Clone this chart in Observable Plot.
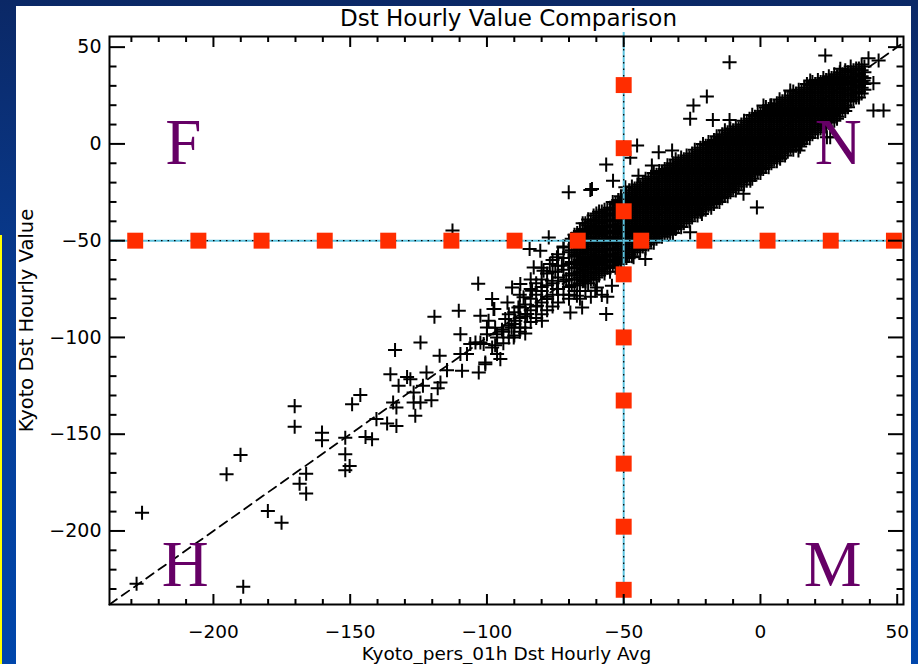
<!DOCTYPE html>
<html><head><meta charset="utf-8">
<script src="https://cdn.jsdelivr.net/npm/d3@7"></script>
<script src="https://cdn.jsdelivr.net/npm/@observablehq/plot@0.6"></script>
<style>
html,body{margin:0;padding:0;background:#0a3a8e;}
#wrap{position:relative;width:918px;height:664px;overflow:hidden;background:linear-gradient(180deg,#0b2866 0%,#083c92 45%,#0046ab 100%);}
#yellow{position:absolute;left:0;top:235px;width:2px;height:429px;background:#ffff00;}
#panel{position:absolute;left:16px;top:6px;width:895px;height:658px;background:#ffffff;}
#chart{position:absolute;left:0;top:0;}
</style></head><body>
<div id="wrap"><div id="yellow"></div><div id="panel"></div><div id="chart"></div></div>
<script>
// ---- text ----
const titleText = "Dst Hourly Value Comparison";
const xLabelText = "Kyoto_pers_01h Dst Hourly Avg";
const yLabelText = "Kyoto Dst Hourly Value";

// ---- scales / ticks ----
const xDomain = [-238, 52.3];
const yDomain = [-238, 55.5];
const xMajor = [-200, -150, -100, -50, 0, 50];
const yMajor = [-200, -150, -100, -50, 0, 50];
const xMinor = [-230,-220,-210,-190,-180,-170,-160,-140,-130,-120,-110,-90,-80,-70,-60,-40,-30,-20,-10,10,20,30,40];
const yMinor = [-230,-220,-210,-190,-180,-170,-160,-140,-130,-120,-110,-90,-80,-70,-60,-40,-30,-20,-10,10,20,30,40];

// ---- reference lines and markers ----
const refLevel = [-50];
const oneToOne = [-238, 52.3];
const hSquaresX = [-228.6,-205.5,-182.4,-159.3,-136.1,-113.0,-89.9,-66.8,-43.6,-20.5,2.6,25.7,48.8];
const vSquaresY = [30.4,-2.2,-34.8,-67.4,-100,-132.6,-165.2,-197.8,-230.4];

// ---- quadrant letters ----
const quadLabels = ["F", "N", "H", "M"];
const quadX = [-211, 28.4, -210.3, 26.4];
const quadY = [-10.5, -10.5, -228.5, -228.5];

// ---- scattered hourly values [persistence avg, Kyoto value] ----
const sparsePoints = [
[-226.1,-190.6],[-228.1,-227.3],[-189.1,-228.8],[-195.2,-170.7],[-190.1,-160.7],[-180.1,-189.7],[-175.1,-195.7],
[-170.3,-135.5],[-170.3,-146.2],[-168.5,-175.6],[-166.1,-170.4],[-166.1,-180.7],[-160.3,-149.2],[-160.3,-153.1],
[-151.8,-151.8],[-151.8,-160.4],[-151.8,-168.6],[-150.2,-166.4],[-149.3,-134.5],[-146.3,-129.7],[-144.4,-151.4],
[-142,-152.6],[-140.4,-142.2],[-136.5,-144.5],[-135.3,-119],[-134.3,-133.6],[-133.1,-136.2],[-133.1,-145.7],
[-133.6,-106.5],[-132.3,-125],[-129.2,-120.4],[-128,-121.6],[-126.8,-128.5],[-126.8,-133.6],[-126.2,-140.5],
[-124.3,-133.6],[-124.3,-102.6],[-123.4,-125],[-122.1,-118.1],[-120.3,-132.4],[-119.2,-89.3],[-118,-126.2],
[-117.3,-109.5],[-117,-123.3],[-114.6,-116.9],[-110.3,-86.2],[-109.7,-98.3],[-109.7,-108.6],[-109.1,-117.2],
[-107.3,-108.6],[-106.1,-103.4],[-104.2,-102.6],[-103,-118.1],[-102.4,-88.8],[-102.4,-102.6],[-100.6,-113.8],
[-100,-98.3],[-99.4,-91.4],[-98.1,-105.2],[-97.6,-85.3],[-96.3,-98.3],[-96.3,-108.6],[-112.6,-44.8],[-103.2,-72.2],
[-70.1,-25],[-62.2,-23.8],[-56.4,-87.9],[-77.4,-48.3],[-84.4,-54.3],[-80.5,-55.2],[-98.1,-80.2],[-97.3,-85.3],
[-100,-94.9],[-101.2,-103.4],[-100.6,-113],[-95.1,-111.2],[-90.2,-100],[-90.8,-74.2],[-87.8,-72.4],[-86.6,-79.3],
[-83.5,-75.9],[-81.7,-83.6],[-79.9,-91.4],[-78,-80.2],[-76.2,-70.7],[-74.4,-75],[-72.6,-62.9],[-69.5,-87.1],
[-67.1,-78.5],[-65.2,-84.5],[-64.6,-70.7],[-60.4,-75.9],[-72,-53.5],[-74.4,-58.6],[-79.3,-65.5],[-82.9,-63.8],
[-89.6,-91.4],[-93.3,-90.5],[-96.3,-100],[-85.3,-87.9],[-87.8,-94.9],[-54.3,-73.3],[-59.8,-74.2],[-42.1,-59.5],
[-46.4,-58.6],[-33,-46.5],[-25.7,-45.7],[-21.4,-36.2],[-6.2,-25.8],[-1.3,-32.8],[-11,-23.3],[-3.7,-19],[-9.8,-20.7],
[6,-6.9],[7.2,-7.7],[14.5,1.7],[13.9,-3.4],[24.3,3.4],[25.5,3.4],[28,13],[14.5,-1.4],
[-11.3,42.2],[23.7,45.7],[39.5,44.3],[43.2,43.1],[41.3,31.4],[37.7,32.8],[41.3,17.3],[45,17.3],[-19.6,24.5],
[-24.5,19.8],[-25.7,13],[-17.4,12.4],[-11.3,12.4],[-45.1,-0.8],[-47.6,-7.2],[-56.4,-10.7],[-53.9,-19],[-61.6,-23.3],
[-37.2,-4.3],[-32.3,-3.4],[-39.7,-11.2],[-44.6,-16.4],[-49.4,-22.4],[10.9,27.6],[18.2,32.8],[3.6,19.8],[1.1,19.8],
[29.2,38.8],
[-92.5,-82],[-88.5,-84.5],[-84,-70],[-80,-74],[-77,-62],[-75,-66],[-71,-70],[-70,-78],[-68,-64],[-68,-57],
[-66,-80],[-64,-76],[-62,-79],[-58,-78],[-56,-79],[-91,-95],[-94.5,-96],[-86,-98]
];

// ---- lower tail of the band, thinning out toward storm values ----
const tailColumns = [
[-68,-76,-70,-64,-58,-52,-47],
[-69,-73,-67,-61,-55,-49],
[-70,-80,-74,-68,-62,-56,-50],
[-72,-78,-71,-65,-59,-53],
[-74,-82,-75,-69,-63,-57],
[-76,-84,-78,-72,-66,-60],
[-78,-86,-79,-73,-67],
[-80,-88,-82,-76,-70,-64],
[-82,-90,-84,-78,-72],
[-84,-92,-86,-80,-75],
[-86,-95,-89,-83],
[-88,-97,-90,-84,-78],
[-90,-99,-93,-87],
[-92,-100,-94,-88],
[-94,-103,-97],
[-97,-104,-95]
];

// ---- dense band: [x, y values read down each column] ----
const bandColumns = [
[-67,-73,-70,-67,-64,-61,-58,-55,-52,-49,-46],
[-66,-72,-69,-66,-63,-60,-57,-54,-51,-48,-45],
[-65,-71,-68,-65,-62,-59,-56,-53,-50,-47,-44,-41],
[-64,-71,-68,-65,-62,-59,-56,-53,-50,-47,-44,-41],
[-63,-72,-69,-66,-63,-60,-57,-54,-51,-48,-45,-42,-39],
[-62,-70,-67,-64,-61,-58,-55,-52,-49,-46,-43,-40],
[-61,-70,-67,-64,-61,-58,-55,-52,-49,-46,-43,-40,-37],
[-60,-69,-66,-63,-60,-57,-54,-51,-48,-45,-42,-39,-36],
[-59,-68,-65,-62,-59,-56,-53,-50,-47,-44,-41,-38,-35],
[-58,-65,-62,-59,-56,-53,-50,-47,-44,-41,-38,-35],
[-57,-67,-64,-61,-58,-55,-52,-49,-46,-43,-40,-37,-34],
[-56,-64,-61,-58,-55,-52,-49,-46,-43,-40,-37,-34],
[-55,-66,-63,-60,-57,-54,-51,-48,-45,-42,-39,-36,-33],
[-54,-63,-60,-57,-54,-51,-48,-45,-42,-39,-36,-33,-30],
[-53,-64,-61,-58,-55,-52,-49,-46,-43,-40,-37,-34,-31],
[-52,-62,-59,-56,-53,-50,-47,-44,-41,-38,-35,-32,-29],
[-51,-60,-57,-54,-51,-48,-45,-42,-39,-36,-33,-30,-27],
[-50,-61,-58,-55,-52,-49,-46,-43,-40,-37,-34,-31,-28],
[-49,-59,-56,-53,-50,-47,-44,-41,-38,-35,-32,-29,-26],
[-48,-57,-54,-51,-48,-45,-42,-39,-36,-33,-30,-27,-24],
[-47,-58,-55,-52,-49,-46,-43,-40,-37,-34,-31,-28,-25,-22],
[-46,-56,-53,-50,-47,-44,-41,-38,-35,-32,-29,-26,-23],
[-45,-54,-51,-48,-45,-42,-39,-36,-33,-30,-27,-24,-21],
[-44,-55,-52,-49,-46,-43,-40,-37,-34,-31,-28,-25,-22],
[-43,-53,-50,-47,-44,-41,-38,-35,-32,-29,-26,-23,-20],
[-42,-54,-51,-48,-45,-42,-39,-36,-33,-30,-27,-24,-21,-18],
[-41,-52,-49,-46,-43,-40,-37,-34,-31,-28,-25,-22,-19],
[-40,-50,-47,-44,-41,-38,-35,-32,-29,-26,-23,-20,-17],
[-39,-51,-48,-45,-42,-39,-36,-33,-30,-27,-24,-21,-18,-15],
[-38,-49,-46,-43,-40,-37,-34,-31,-28,-25,-22,-19,-16],
[-37,-47,-44,-41,-38,-35,-32,-29,-26,-23,-20,-17,-14],
[-36,-48,-45,-42,-39,-36,-33,-30,-27,-24,-21,-18,-15],
[-35,-46,-43,-40,-37,-34,-31,-28,-25,-22,-19,-16,-13],
[-34,-47,-44,-41,-38,-35,-32,-29,-26,-23,-20,-17,-14,-11],
[-33,-45,-42,-39,-36,-33,-30,-27,-24,-21,-18,-15,-12],
[-32,-46,-43,-40,-37,-34,-31,-28,-25,-22,-19,-16,-13,-10],
[-31,-44,-41,-38,-35,-32,-29,-26,-23,-20,-17,-14,-11,-8],
[-30,-42,-39,-36,-33,-30,-27,-24,-21,-18,-15,-12,-9],
[-29,-43,-40,-37,-34,-31,-28,-25,-22,-19,-16,-13,-10,-7],
[-28,-41,-38,-35,-32,-29,-26,-23,-20,-17,-14,-11,-8],
[-27,-39,-36,-33,-30,-27,-24,-21,-18,-15,-12,-9,-6],
[-26,-40,-37,-34,-31,-28,-25,-22,-19,-16,-13,-10,-7],
[-25,-38,-35,-32,-29,-26,-23,-20,-17,-14,-11,-8,-5],
[-24,-36,-33,-30,-27,-24,-21,-18,-15,-12,-9,-6,-3],
[-23,-37,-34,-31,-28,-25,-22,-19,-16,-13,-10,-7,-4],
[-22,-35,-32,-29,-26,-23,-20,-17,-14,-11,-8,-5,-2],
[-21,-33,-30,-27,-24,-21,-18,-15,-12,-9,-6,-3,0],
[-20,-34,-31,-28,-25,-22,-19,-16,-13,-10,-7,-4,-1],
[-19,-32,-29,-26,-23,-20,-17,-14,-11,-8,-5,-2,1],
[-18,-33,-30,-27,-24,-21,-18,-15,-12,-9,-6,-3,0],
[-17,-31,-28,-25,-22,-19,-16,-13,-10,-7,-4,-1,2],
[-16,-29,-26,-23,-20,-17,-14,-11,-8,-5,-2,1,4],
[-15,-30,-27,-24,-21,-18,-15,-12,-9,-6,-3,0,3],
[-14,-28,-25,-22,-19,-16,-13,-10,-7,-4,-1,2,5],
[-13,-26,-23,-20,-17,-14,-11,-8,-5,-2,1,4,7],
[-12,-27,-24,-21,-18,-15,-12,-9,-6,-3,0,3,6],
[-11,-25,-22,-19,-16,-13,-10,-7,-4,-1,2,5,8],
[-10,-23,-20,-17,-14,-11,-8,-5,-2,1,4,7],
[-9,-24,-21,-18,-15,-12,-9,-6,-3,0,3,6,9],
[-8,-22,-19,-16,-13,-10,-7,-4,-1,2,5,8],
[-7,-20,-17,-14,-11,-8,-5,-2,1,4,7,10],
[-6,-21,-18,-15,-12,-9,-6,-3,0,3,6,9,12],
[-5,-19,-16,-13,-10,-7,-4,-1,2,5,8,11],
[-4,-17,-14,-11,-8,-5,-2,1,4,7,10,13],
[-3,-18,-15,-12,-9,-6,-3,0,3,6,9,12,15],
[-2,-16,-13,-10,-7,-4,-1,2,5,8,11,14],
[-1,-14,-11,-8,-5,-2,1,4,7,10,13,16],
[0,-15,-12,-9,-6,-3,0,3,6,9,12,15],
[1,-13,-10,-7,-4,-1,2,5,8,11,14,17],
[2,-11,-8,-5,-2,1,4,7,10,13,16,19],
[3,-12,-9,-6,-3,0,3,6,9,12,15,18],
[4,-10,-7,-4,-1,2,5,8,11,14,17,20],
[5,-8,-5,-2,1,4,7,10,13,16,19],
[6,-9,-6,-3,0,3,6,9,12,15,18,21],
[7,-7,-4,-1,2,5,8,11,14,17,20,23],
[8,-5,-2,1,4,7,10,13,16,19,22],
[9,-6,-3,0,3,6,9,12,15,18,21,24],
[10,-4,-1,2,5,8,11,14,17,20,23],
[11,-2,1,4,7,10,13,16,19,22,25],
[12,-3,0,3,6,9,12,15,18,21,24,27],
[13,-1,2,5,8,11,14,17,20,23,26],
[14,1,4,7,10,13,16,19,22,25,28],
[15,0,3,6,9,12,15,18,21,24,27],
[16,2,5,8,11,14,17,20,23,26,29],
[17,4,7,10,13,16,19,22,25,28,31],
[18,3,6,9,12,15,18,21,24,27,30],
[19,5,8,11,14,17,20,23,26,29,32],
[20,7,10,13,16,19,22,25,28,31],
[21,6,9,12,15,18,21,24,27,30,33],
[22,8,11,14,17,20,23,26,29,32],
[23,10,13,16,19,22,25,28,31,34],
[24,9,12,15,18,21,24,27,30,33],
[25,11,14,17,20,23,26,29,32,35],
[26,13,16,19,22,25,28,31,34],
[27,12,15,18,21,24,27,30,33,36],
[28,14,17,20,23,26,29,32,35],
[29,16,19,22,25,28,31,34,37],
[30,18,21,24,27,30,33,36],
[31,17,20,23,26,29,32,35,38],
[32,19,22,25,28,31,34,37],
[33,22,25,28,31,34,37,40],
[34,23,26,29,32,35,38],
[35,24,27,30,33,36,39],
[36,24,27,30,33,36,39],
[37,26,29,32,35,38,41],
[38,28,31,34,37,40]
];

const points = sparsePoints.map(([x, y]) => ({x, y}));
for (const [x, ...ys] of tailColumns) for (const y of ys) points.push({x, y});
for (const [x, ...ys] of bandColumns) for (const y of ys) points.push({x, y});

const cyan = "#5cc3df";
const red = "#ff2d00";
const purple = "#660066";
const blank = () => "";

const chart = Plot.plot({
  width: 918, height: 664,
  marginLeft: 109, marginRight: 15, marginTop: 36, marginBottom: 60,
  style: {background: "transparent", fontFamily: "DejaVu Sans", color: "black", overflow: "visible"},
  x: {domain: xDomain, label: null},
  y: {domain: yDomain, label: null},
  marks: [
    Plot.dot(points, {x: "x", y: "y", symbol: "plus", r: 4.6, stroke: "black", strokeWidth: 2}),
    Plot.line(oneToOne, {x: d => d, y: d => d, stroke: "black", strokeWidth: 1.8, strokeDasharray: "9,6"}),
    Plot.ruleY(refLevel, {y: d => d, stroke: cyan, strokeWidth: 2}),
    Plot.ruleY(refLevel, {y: d => d, stroke: "black", strokeWidth: 1.2, strokeDasharray: "1.5,5"}),
    Plot.ruleX(refLevel, {x: d => d, stroke: cyan, strokeWidth: 2, insetTop: -4}),
    Plot.ruleX(refLevel, {x: d => d, stroke: "black", strokeWidth: 1.2, strokeDasharray: "1.5,5"}),
    Plot.dot(hSquaresX, {x: d => d, y: () => refLevel[0], symbol: "square", r: 9, fill: red}),
    Plot.dot(vSquaresY, {x: () => refLevel[0], y: d => d, symbol: "square", r: 9, fill: red}),
    Plot.frame({stroke: "black", strokeWidth: 2}),
    Plot.axisX(xMajor, {anchor: "bottom", tickSize: -10, strokeWidth: 2, tickFormat: blank, label: null}),
    Plot.axisX(xMinor, {anchor: "bottom", tickSize: -5, strokeWidth: 2, tickFormat: blank, label: null}),
    Plot.axisX(xMajor, {anchor: "top", tickSize: -10, strokeWidth: 2, tickFormat: blank, label: null}),
    Plot.axisX(xMinor, {anchor: "top", tickSize: -5, strokeWidth: 2, tickFormat: blank, label: null}),
    Plot.axisY(yMajor, {anchor: "left", tickSize: -16, strokeWidth: 2, tickFormat: blank, label: null}),
    Plot.axisY(yMinor, {anchor: "left", tickSize: -7.5, strokeWidth: 2, tickFormat: blank, label: null}),
    Plot.axisY(yMajor, {anchor: "right", tickSize: -16, strokeWidth: 2, tickFormat: blank, label: null}),
    Plot.axisY(yMinor, {anchor: "right", tickSize: -7.5, strokeWidth: 2, tickFormat: blank, label: null}),
    Plot.axisX(xMajor, {anchor: "bottom", tickSize: 0, tickPadding: 20, fontSize: 18.5, label: null}),
    Plot.axisY(yMajor, {anchor: "left", tickSize: 0, tickPadding: 8, fontSize: 19, label: null}),
    Plot.text(quadLabels, {x: (d, i) => quadX[i], y: (d, i) => quadY[i], text: d => d, fontFamily: "Liberation Serif", fontSize: 65, fill: purple, lineAnchor: "bottom", textAnchor: "middle"}),
    Plot.text([titleText], {frameAnchor: "top", dx: 2, dy: -11, lineAnchor: "bottom", fontSize: 23, fill: "black", text: d => d}),
    Plot.text([xLabelText], {frameAnchor: "bottom", dy: 55, lineAnchor: "bottom", fontSize: 18.5, fill: "black", text: d => d}),
    Plot.text([yLabelText], {frameAnchor: "left", dx: -77, rotate: -90, lineAnchor: "bottom", textAnchor: "middle", fontSize: 19.5, fill: "black", text: d => d})
  ]
});
document.getElementById("chart").appendChild(chart);
</script>
</body></html>
